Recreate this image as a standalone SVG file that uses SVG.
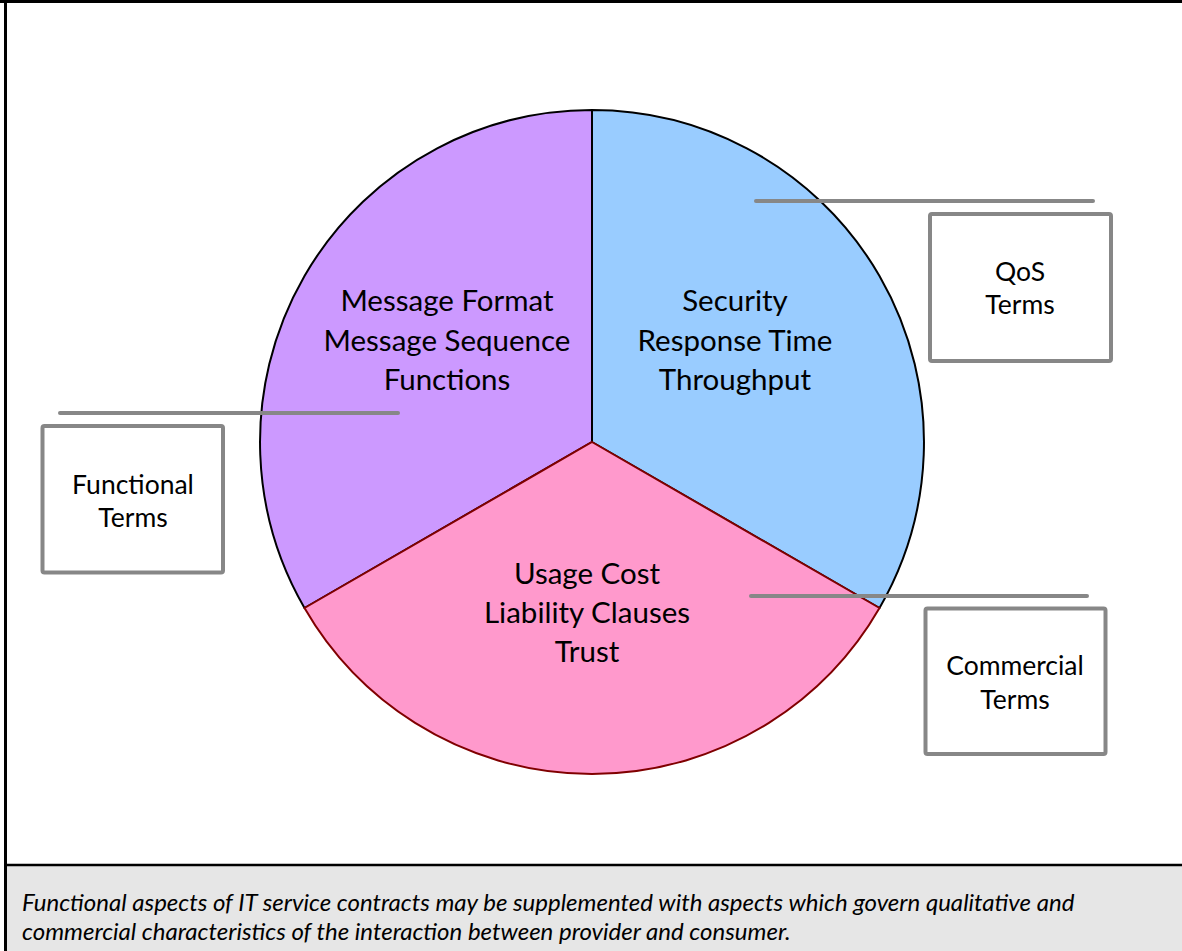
<svg xmlns="http://www.w3.org/2000/svg" width="1182" height="951" viewBox="0 0 1182 951">
<style>
.pt{font-family:Lato,"Open Sans","Liberation Sans",sans-serif;font-size:29.5px;fill:#000;text-anchor:middle}
.bt{font-family:Lato,"Open Sans","Liberation Sans",sans-serif;font-size:26.5px;fill:#000;text-anchor:middle}
.cap{font-family:Lato,"Open Sans","Liberation Sans",sans-serif;font-size:24px;font-style:italic;fill:#000}
.box{fill:#fff;stroke:#878787;stroke-width:4}
.lead{stroke:#878787;stroke-width:4;stroke-linecap:round;fill:none}
</style>
<rect x="0" y="0" width="1182" height="951" fill="#fff"/>
<rect x="5" y="866" width="1177" height="85" fill="#e6e6e6"/>
<line x1="0" y1="1.5" x2="1182" y2="1.5" stroke="#000" stroke-width="3"/>
<line x1="5.5" y1="0" x2="5.5" y2="951" stroke="#000" stroke-width="3"/>
<line x1="5" y1="865" x2="1182" y2="865" stroke="#000" stroke-width="2.5"/>

<g id="slice-functional">
<path d="M592,442 L592,110 A332,332 0 0 0 304.5,608 Z" fill="#cc99ff" stroke="#000" stroke-width="2"/>
<text class="pt" x="447" y="311">Message Format</text>
<text class="pt" x="447" y="351">Message Sequence</text>
<text class="pt" x="447" y="390">Functions</text>
</g>
<g id="slice-qos">
<path d="M592,442 L592,110 A332,332 0 0 1 879.5,608 Z" fill="#99ccff" stroke="#000" stroke-width="2"/>
<text class="pt" x="735" y="311">Security</text>
<text class="pt" x="735" y="351">Response Time</text>
<text class="pt" x="735" y="390">Throughput</text>
</g>
<g id="slice-commercial">
<path d="M592,442 L879.5,608 A332,332 0 0 1 304.5,608 Z" fill="#ff99cc" stroke="#800000" stroke-width="2"/>
<text class="pt" x="587" y="584">Usage Cost</text>
<text class="pt" x="587" y="623">Liability Clauses</text>
<text class="pt" x="587" y="662">Trust</text>
</g>

<g id="connectors">
<line class="lead" x1="756" y1="201" x2="1093" y2="201"/>
<line class="lead" x1="60" y1="413" x2="398" y2="413"/>
<line class="lead" x1="751" y1="596" x2="1087" y2="596"/>
</g>

<g id="box-qos">
<rect class="box" x="930" y="214" width="181" height="147" rx="2"/>
<text class="bt" x="1020" y="281">QoS</text>
<text class="bt" x="1020" y="314">Terms</text>
</g>
<g id="box-functional">
<rect class="box" x="42.5" y="426" width="180.5" height="146.5" rx="2"/>
<text class="bt" x="133" y="494">Functional</text>
<text class="bt" x="133" y="527">Terms</text>
</g>
<g id="box-commercial">
<rect class="box" x="925.5" y="608.5" width="180" height="145.5" rx="2"/>
<text class="bt" x="1015" y="675">Commercial</text>
<text class="bt" x="1015" y="709">Terms</text>
</g>

<g id="caption">
<text class="cap" x="22" y="911">Functional aspects of IT service contracts may be supplemented with aspects which govern qualitative and</text>
<text class="cap" x="22" y="940">commercial characteristics of the interaction between provider and consumer.</text>
</g>
</svg>
